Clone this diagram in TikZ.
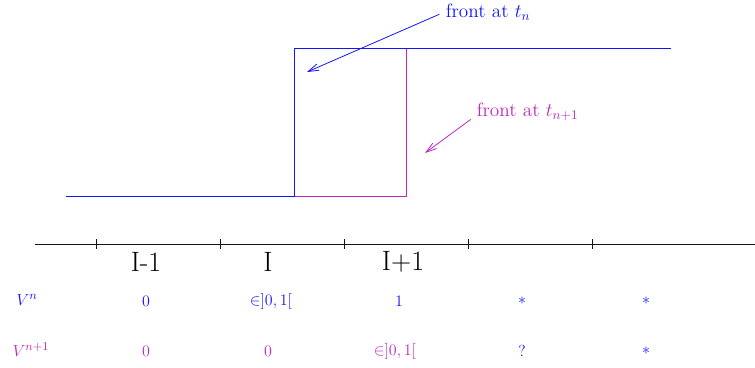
\documentclass[tikz,border=0pt]{standalone}
\usepackage{amsmath,amssymb}
\usepackage{tikz}
\usetikzlibrary{arrows.meta,positioning,calc}
\definecolor{frontN}{RGB}{20,20,250}
\definecolor{frontM}{RGB}{190,40,190}
\definecolor{axisblack}{RGB}{20,20,20}

\begin{document}
\begin{tikzpicture}[x=0.75pt,y=-0.75pt,
    prof/.style={semithick},
    ptr/.style={semithick,shorten <=3pt,-{Straight Barb[length=8pt,width=5pt]}},
    cell/.style={font=\fontsize{13}{16}\selectfont,inner sep=1pt},
    lbl/.style={font=\Large,inner sep=2pt}]
\useasboundingbox (0,0) rectangle (755,367);
% Front profiles at t_n and t_{n+1}
\draw[prof,frontM] (294,196) -- (406,196) -- (406,48);
\draw[prof,frontN] (66,196) -- (294,196) -- (294,48) -- (671,48);
% Labels with arrows
\node[lbl,frontN,anchor=base west] (lblN) at (443,18) {front at $t_n$};
\coordinate (tipN) at (307,72);
\draw[ptr,frontN] (lblN.west) -- (tipN);
\node[lbl,frontM,anchor=base west] (lblM) at (474,117) {front at $t_{n+1}$};
\coordinate (tipM) at (425,153);
\draw[ptr,frontM] (lblM.base west) -- (tipM);
% Mesh axis
\coordinate (axL) at (35,244);
\coordinate (axR) at (755,244);
\draw[axisblack] (axL) -- (axR);
\foreach \x in {96,220,344,468,592}
  \draw[axisblack] (\x,239) -- (\x,249);
\node[font=\fontsize{21}{25}\selectfont] (cIm) at (146,262) {I-1};
\node[font=\fontsize{21}{25}\selectfont] (cI) at (268,262) {I};
\node[font=\fontsize{21}{25}\selectfont] (cIp) at (403,262) {I+1};
% Values of V at t_n and t_{n+1}
\node[cell,frontN] (rowN) at (27,300) {$V^n$};
\node[cell,frontM] (rowM) at (31,350) {$V^{n+1}$};
\foreach \x/\v [count=\k] in {146/{$0$},271/{$\in]0,1[$},399/{$1$},522/{$*$},646/{$*$}}
  \node[cell,frontN] (vN\k) at (\x,301) {\v};
\foreach \x/\v [count=\k] in {146/{$0$},268/{$0$},395/{$\in]0,1[$}}
  \node[cell,frontM] (vM\k) at (\x,351) {\v};
\node[cell,frontN] (vM4) at (522,351) {$?$};
\node[cell,frontN] (vM5) at (646,351) {$*$};
\end{tikzpicture}
\end{document}
